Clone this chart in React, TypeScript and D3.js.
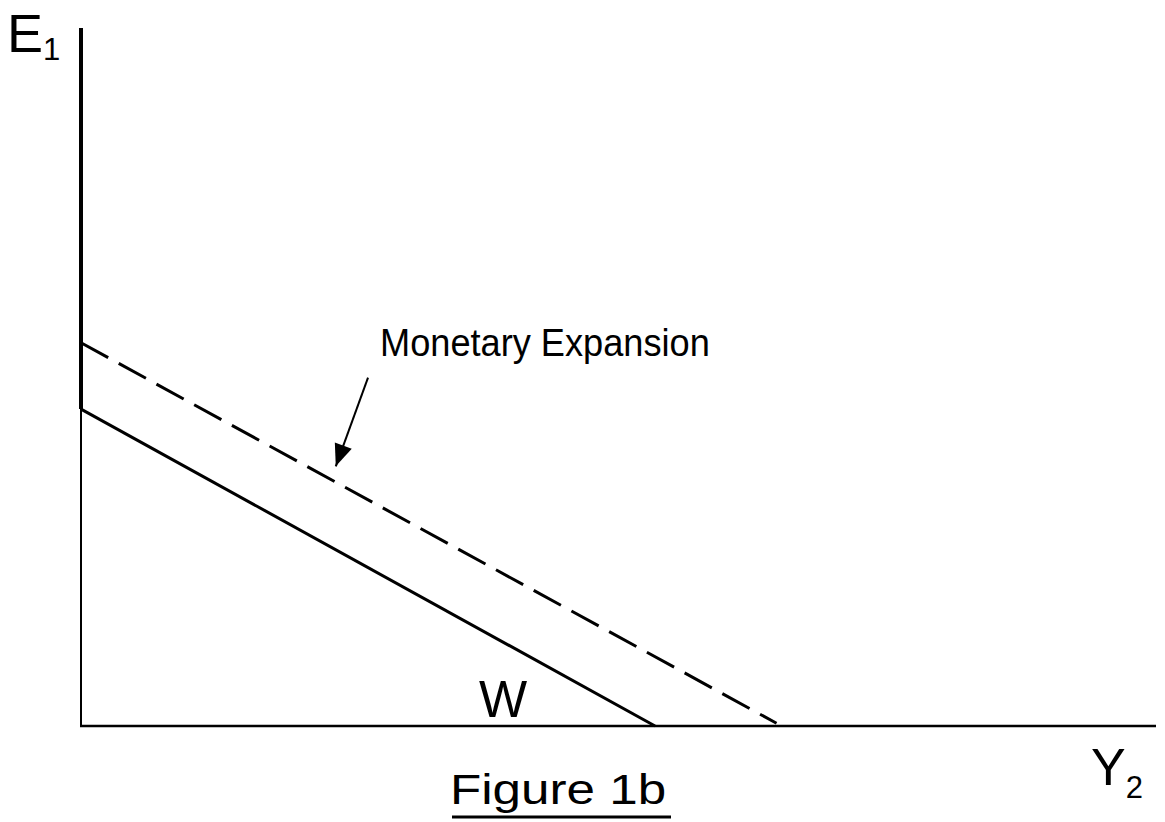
import React from 'react';
import * as d3 from 'd3';

const width = 1165;
const height = 822;

// diagram values in axis units (0..100 on each axis)
const wLine = [{ x: 0, y: 45.4 }, { x: 53.4, y: 0 }];
const expansionLine = [{ x: 0, y: 54.9 }, { x: 64.7, y: 0.4 }];
const arrowPts = [{ x: 26.7, y: 49.9 }, { x: 23.7, y: 37.2 }];
const axisTop = 100;
const axisRight = 100;

const x = d3.scaleLinear().domain([0, 100]).range([81, 1156]);
const y = d3.scaleLinear().domain([0, 100]).range([726, 28]);

const line = d3.line<{ x: number; y: number }>()
    .x((d) => x(d.x))
    .y((d) => y(d.y));

const font = 'Arial, "Liberation Sans", Helvetica, sans-serif';

export default function App() {
    const tip = arrowPts[1];
    const from = arrowPts[0];
    const angle = Math.atan2(y(tip.y) - y(from.y), x(tip.x) - x(from.x)) * 180 / Math.PI;

    return (
        <svg width={width} height={height}
            style={{ position: 'absolute', left: 0, top: 0, background: '#fff' }}
            fontFamily={font}>
            {/* axes */}
            <line x1={x(0)} x2={x(0)} y1={y(axisTop)} y2={y(wLine[0].y)}
                stroke="#000" strokeWidth={4} />
            <line x1={x(0)} x2={x(0)} y1={y(wLine[0].y)} y2={y(0) + 1}
                stroke="#000" strokeWidth={2} />
            <line x1={x(0) - 1} x2={x(axisRight)} y1={y(0)} y2={y(0)}
                stroke="#000" strokeWidth={2.5} />

            {/* curves */}
            <path d={line(wLine) || ''} fill="none" stroke="#000" strokeWidth={3} />
            <path d={line(expansionLine) || ''} fill="none" stroke="#000" strokeWidth={3}
                strokeDasharray="31,12" />

            {/* pointer arrow */}
            <line x1={x(from.x)} y1={y(from.y)} x2={x(tip.x)} y2={y(tip.y)}
                stroke="#000" strokeWidth={2} />
            <g transform={`translate(${x(tip.x)},${y(tip.y)}) rotate(${angle})`}>
                <path d="M0,0 L-22,-9 L-22,9 Z" fill="#000" />
            </g>

            {/* labels */}
            <text x={7} y={52} fontSize={54}>
                E<tspan fontSize={31} dy={8}>1</tspan>
            </text>
            <text x={1091} y={785} fontSize={52}>
                Y<tspan fontSize={31} dy={13}>2</tspan>
            </text>
            <text x={479} y={717} fontSize={51}>W</text>
            <text transform="translate(380,356) scale(0.928,1)" fontSize={39}>
                Monetary Expansion
            </text>
            <text transform="translate(450,804) scale(1.19,1)" fontSize={43}>
                Figure 1b
            </text>
            <line x1={452} x2={671} y1={817} y2={817} stroke="#000" strokeWidth={3} />
        </svg>
    );
}
